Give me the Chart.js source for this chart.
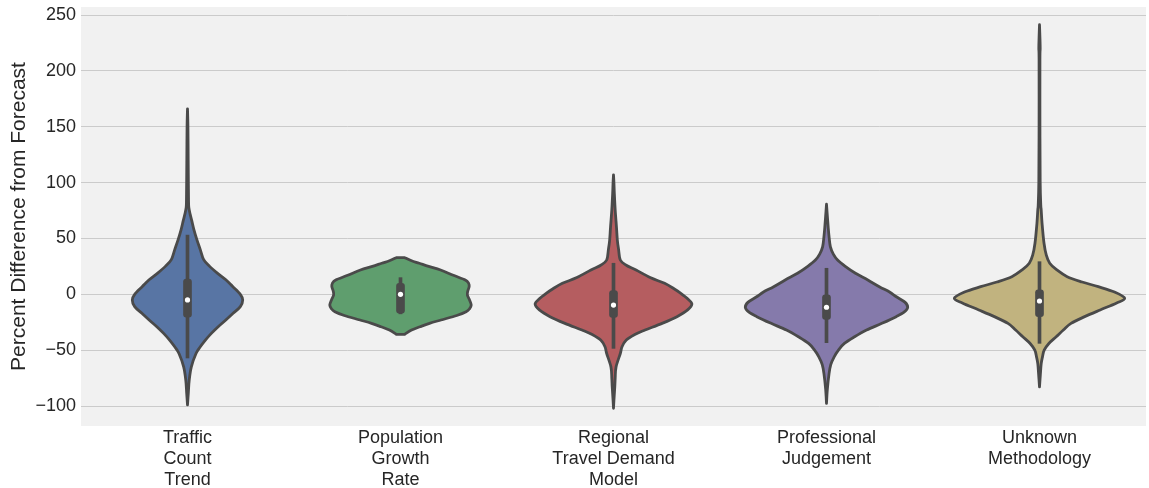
<!DOCTYPE html>
<html>
<head>
<meta charset="utf-8">
<script src="https://cdn.jsdelivr.net/npm/chart.js@4.4.1/dist/chart.umd.min.js"></script>
<style>
  html, body { margin: 0; padding: 0; background: #ffffff; }
  #c { display: block; }
</style>
</head>
<body>
<canvas id="c" width="1149" height="488"></canvas>
<script>
// Forecast methods on the x axis
const categories = [
  ['Traffic', 'Count', 'Trend'],
  ['Population', 'Growth', 'Rate'],
  ['Regional', 'Travel Demand', 'Model'],
  ['Professional', 'Judgement'],
  ['Unknown', 'Methodology']
];

// Y axis tick values (percent)
const yTickValues = [-100, -50, 0, 50, 100, 150, 200, 250];

// Box summary per method
const medians      = [-5, 0, -9.6, -11.6, -6];
const quartileLow  = [-20.5, -17, -20.6, -22.4, -20];
const quartileHigh = [13.7, 9.8, 3.3, 0, 3.9];
const whiskerLow   = [-57, -17.5, -48.4, -43.3, -43.9];
const whiskerHigh  = [53, 14.9, 27.8, 23.3, 29.2];

// Kernel density outlines: value levels and relative density (1 = widest violin)
const trafficLevels  = [166, 150, 120, 100, 85, 78, 72, 66, 58, 49, 40, 31, 25, 19, 13, 7, 0, -5, -11, -17, -23, -29, -35, -41, -47, -53, -65, -77, -88, -99];
const trafficDensity = [0, 0.005, 0.008, 0.01, 0.012, 0.015, 0.03, 0.05, 0.075, 0.11, 0.15, 0.19, 0.26, 0.35, 0.45, 0.53, 0.62, 0.648, 0.62, 0.535, 0.45, 0.36, 0.28, 0.21, 0.15, 0.10, 0.045, 0.02, 0.01, 0];

const populationLevels  = [32.8, 30, 27.8, 25, 21.8, 17, 12.8, 9.8, 6.8, 3, -0.6, -5, -9.6, -13, -15.6, -19, -23, -26, -29, -32, -35.8];
const populationDensity = [0.05, 0.13, 0.22, 0.33, 0.47, 0.62, 0.76, 0.80, 0.806, 0.79, 0.785, 0.81, 0.83, 0.81, 0.77, 0.66, 0.475, 0.34, 0.23, 0.13, 0.05];

const regionalLevels  = [106.9, 100, 90, 75.5, 60, 48.6, 40, 30.7, 26, 21.8, 15, 9.8, 5, 0.9, -4, -8.7, -14, -20, -26, -32, -36, -41, -47, -53, -65, -75, -83, -95, -102];
const regionalDensity = [0, 0.005, 0.01, 0.02, 0.035, 0.045, 0.06, 0.08, 0.15, 0.265, 0.43, 0.60, 0.71, 0.79, 0.87, 0.92, 0.87, 0.745, 0.57, 0.37, 0.25, 0.15, 0.10, 0.08, 0.03, 0.02, 0.015, 0.005, 0];

const professionalLevels  = [80.6, 70, 60, 51.6, 42.7, 36, 30.7, 25, 18.8, 13, 6.8, 2, -2.2, -7, -11.6, -16, -20, -26, -32, -38, -44, -50, -56, -63, -71, -85, -97.7];
const professionalDensity = [0, 0.01, 0.02, 0.03, 0.045, 0.08, 0.13, 0.22, 0.34, 0.48, 0.62, 0.74, 0.82, 0.92, 0.953, 0.91, 0.818, 0.65, 0.47, 0.33, 0.21, 0.14, 0.09, 0.05, 0.03, 0.01, 0];

const unknownLevels  = [241.3, 230, 220, 210, 150, 100, 80, 75.5, 63.6, 45.7, 35, 27.8, 22, 15.8, 11, 6.8, 2, -3.6, -8, -14, -20, -26, -32, -38, -44, -50, -56, -62, -72, -82.8];
const unknownDensity = [0, 0.005, 0.008, 0.005, 0.005, 0.008, 0.015, 0.02, 0.03, 0.053, 0.08, 0.12, 0.2, 0.325, 0.5, 0.69, 0.88, 1.0, 0.9, 0.712, 0.53, 0.37, 0.28, 0.196, 0.11, 0.055, 0.035, 0.02, 0.01, 0];

const violinFills = ['#5875a4', '#5f9e6e', '#b55d60', '#857aab', '#c1b37f'];
const violinProfiles = [
  { levels: trafficLevels, density: trafficDensity },
  { levels: populationLevels, density: populationDensity },
  { levels: regionalLevels, density: regionalDensity },
  { levels: professionalLevels, density: professionalDensity },
  { levels: unknownLevels, density: unknownDensity }
];

const INK = '#4a4a4a';
const TEXT = '#262626';
const FONT = "'Liberation Sans', Arial, Helvetica, sans-serif";
const VIOLIN_HALF_WIDTH = 0.4; // in category units, for density 1

// Smooth open curve through points (Catmull-Rom as cubic Béziers)
function curveThrough(ctx, pts, moveFirst) {
  if (moveFirst) ctx.moveTo(pts[0].x, pts[0].y); else ctx.lineTo(pts[0].x, pts[0].y);
  for (let i = 0; i < pts.length - 1; i++) {
    const p0 = pts[Math.max(i - 1, 0)];
    const p1 = pts[i];
    const p2 = pts[i + 1];
    const p3 = pts[Math.min(i + 2, pts.length - 1)];
    const c1x = p1.x + (p2.x - p0.x) / 6, c1y = p1.y + (p2.y - p0.y) / 6;
    const c2x = p2.x - (p3.x - p1.x) / 6, c2y = p2.y - (p3.y - p1.y) / 6;
    ctx.bezierCurveTo(c1x, c1y, c2x, c2y, p2.x, p2.y);
  }
}

const plotBackground = {
  id: 'plotBackground',
  beforeDraw(chart) {
    const { ctx, chartArea: a } = chart;
    ctx.save();
    ctx.fillStyle = '#f1f1f1';
    ctx.fillRect(a.left, a.top, a.right - a.left, a.bottom - a.top);
    ctx.restore();
  }
};

const violinBodies = {
  id: 'violinBodies',
  beforeDatasetsDraw(chart) {
    const { ctx, chartArea: a, scales: { x, y } } = chart;
    ctx.save();
    ctx.beginPath();
    ctx.rect(a.left, a.top, a.right - a.left, a.bottom - a.top);
    ctx.clip();
    violinProfiles.forEach((p, i) => {
      const cx = x.getPixelForValue(i);
      const catW = x.getPixelForValue(i + 1) - cx;
      const left = p.levels.map((v, k) => ({ x: cx - p.density[k] * VIOLIN_HALF_WIDTH * catW, y: y.getPixelForValue(v) }));
      const right = p.levels.map((v, k) => ({ x: cx + p.density[k] * VIOLIN_HALF_WIDTH * catW, y: y.getPixelForValue(v) })).reverse();
      ctx.beginPath();
      curveThrough(ctx, left, true);
      curveThrough(ctx, right, false);
      ctx.closePath();
      ctx.fillStyle = violinFills[i];
      ctx.fill();
      ctx.lineWidth = 2.8;
      ctx.lineJoin = 'round';
      ctx.strokeStyle = INK;
      ctx.stroke();
    });
    ctx.restore();
  }
};

const chart = new Chart(document.getElementById('c'), {
  data: {
    labels: categories,
    datasets: [
      {
        type: 'line',
        data: medians,
        showLine: false,
        pointRadius: 2.6,
        pointBackgroundColor: '#ffffff',
        pointBorderWidth: 0,
        pointHoverRadius: 2.6
      },
      {
        type: 'bar',
        data: quartileLow.map((lo, i) => [lo, quartileHigh[i]]),
        backgroundColor: INK,
        barThickness: 8,
        borderRadius: 3,
        borderSkipped: false,
        grouped: false
      },
      {
        type: 'bar',
        data: whiskerLow.map((lo, i) => [lo, whiskerHigh[i]]),
        backgroundColor: INK,
        barThickness: 3,
        borderSkipped: false,
        grouped: false
      }
    ]
  },
  options: {
    responsive: false,
    animation: false,
    events: [],
    layout: { padding: { top: 7, right: 3, left: 0, bottom: 0 } },
    plugins: { legend: { display: false }, tooltip: { enabled: false } },
    scales: {
      x: {
        type: 'category',
        offset: true,
        grid: { display: false, drawTicks: false },
        border: { display: false },
        ticks: {
          color: TEXT,
          font: { family: FONT, size: 18, lineHeight: 1.167 },
          padding: 2,
          maxRotation: 0,
          autoSkip: false
        },
        afterFit(scale) {
          scale.height = 62;
          scale.paddingLeft = 0;
          scale.paddingRight = 0;
        }
      },
      y: {
        type: 'linear',
        min: -117.9,
        max: 257.2,
        grid: { color: '#cbcbcb', lineWidth: 1, drawTicks: false },
        border: { display: false },
        afterBuildTicks(scale) { scale.ticks = yTickValues.map(v => ({ value: v })); },
        ticks: {
          color: TEXT,
          font: { family: FONT, size: 18 },
          padding: 5,
          callback: v => String(v).replace('-', '\u2212')
        },
        title: {
          display: true,
          text: 'Percent Difference from Forecast',
          color: TEXT,
          font: { family: FONT, size: 21, lineHeight: 1.2 },
          padding: { top: 7, bottom: 0 }
        },
        afterFit(scale) {
          scale.width = 81;
          scale.paddingTop = 0;
          scale.paddingBottom = 0;
        }
      }
    }
  },
  plugins: [plotBackground, violinBodies]
});
</script>
</body>
</html>
